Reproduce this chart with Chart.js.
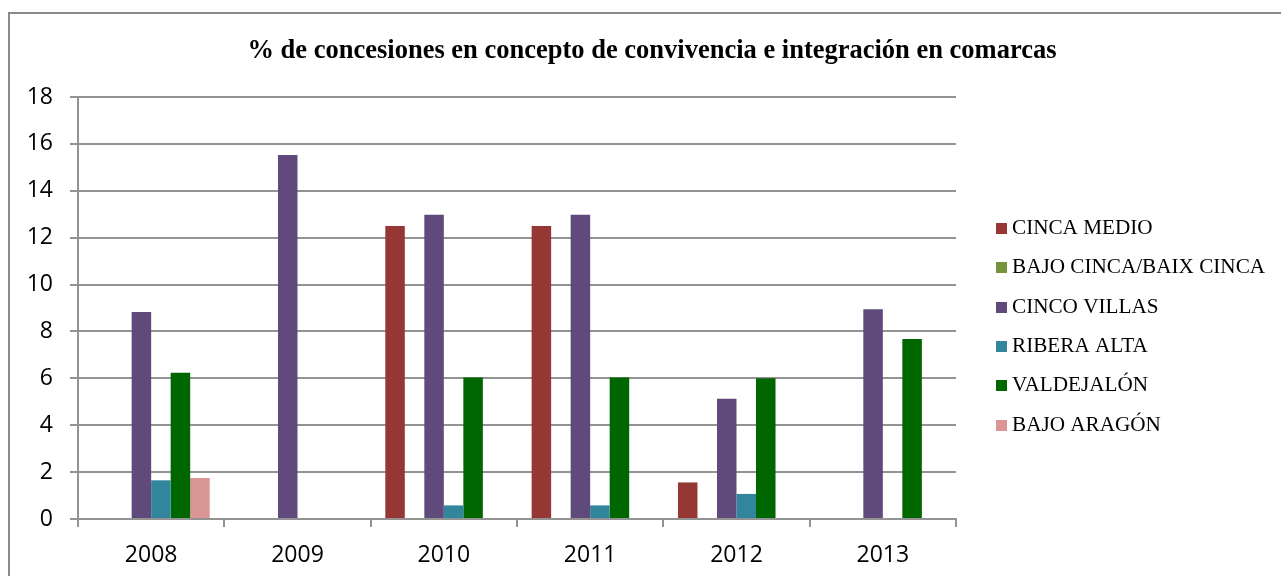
<!DOCTYPE html>
<html>
<head>
<meta charset="utf-8">
<script src="https://cdn.jsdelivr.net/npm/chart.js@4.4.1/dist/chart.umd.min.js"></script>
<style>
  html, body { margin: 0; padding: 0; background: #fff; }
  #wrap { width: 1281px; height: 576px; position: relative; }
</style>
</head>
<body>
<div id="wrap"><canvas id="chart"></canvas></div>
<script>
// categories and series
const years = ['2008', '2009', '2010', '2011', '2012', '2013'];
const cincaMedio = [0, 0, 12.5, 12.5, 1.56, 0];
const bajoCinca = [0, 0, 0, 0, 0, 0];
const cincoVillas = [8.83, 15.53, 12.98, 12.98, 5.13, 8.95];
const riberaAlta = [1.65, 0, 0.58, 0.58, 1.07, 0];
const valdejalon = [6.24, 0, 6.04, 6.04, 6.0, 7.68];
const bajoAragon = [1.75, 0, 0, 0, 0, 0];

const chartTitle = '% de concesiones en concepto de convivencia e integración en comarcas';
const gridColor = '#939393';

// frame, title and legend drawn by hand to match the Excel layout
const excelDecor = {
    id: 'excelDecor',
    beforeDraw(chart) {
        const c = chart.ctx;
        c.save();
        c.fillStyle = '#fff';
        c.fillRect(0, 0, chart.width, chart.height);
        c.strokeStyle = '#8a8a8a';
        c.lineWidth = 2;
        c.beginPath();
        c.moveTo(9, chart.height);
        c.lineTo(9, 13);
        c.lineTo(chart.width, 13);
        c.stroke();
        c.restore();
    },
    afterDraw(chart) {
        const c = chart.ctx;
        c.save();
        c.fillStyle = '#000';
        c.font = 'bold 26.5px "Liberation Serif", "Times New Roman", serif';
        c.textAlign = 'center';
        c.textBaseline = 'alphabetic';
        c.fillText(chartTitle, 652, 58);

        c.font = '21.2px "Liberation Serif", "Times New Roman", serif';
        c.textAlign = 'left';
        c.textBaseline = 'middle';
        chart.data.datasets.forEach((ds, i) => {
            const y = 228.5 + i * 39.3;
            c.fillStyle = ds.backgroundColor;
            c.fillRect(996, Math.round(y - 5.5), 11, 11);
            c.fillStyle = '#000';
            c.fillText(ds.label, 1012, y);
        });
        c.restore();
    }
};

const ctx = document.getElementById('chart').getContext('2d');
const chart = new Chart(ctx, {
    type: 'bar',
    data: {
        labels: years,
        datasets: [
            { label: 'CINCA MEDIO', data: cincaMedio, backgroundColor: '#953735' },
            { label: 'BAJO CINCA/BAIX CINCA', data: bajoCinca, backgroundColor: '#77933C' },
            { label: 'CINCO VILLAS', data: cincoVillas, backgroundColor: '#604A7B' },
            { label: 'RIBERA ALTA', data: riberaAlta, backgroundColor: '#31859C' },
            { label: 'VALDEJALÓN', data: valdejalon, backgroundColor: '#006600' },
            { label: 'BAJO ARAGÓN', data: bajoAragon, backgroundColor: '#D99694' }
        ]
    },
    options: {
        responsive: true,
        maintainAspectRatio: false,
        animation: false,
        layout: { padding: { left: 0, right: 325, top: 97, bottom: 0 } },
        datasets: {
            bar: { categoryPercentage: 0.8, barPercentage: 1.0, borderWidth: 0 }
        },
        plugins: {
            legend: { display: false },
            title: { display: false },
            tooltip: { enabled: false }
        },
        scales: {
            x: {
                grid: {
                    display: true,
                    offset: true,
                    drawOnChartArea: false,
                    drawTicks: true,
                    tickLength: 8,
                    color: gridColor,
                    lineWidth: 2
                },
                border: { display: true, color: gridColor, width: 2 },
                ticks: {
                    color: '#000',
                    padding: 15,
                    font: { family: '"Open Sans", sans-serif', size: 23 }
                },
                afterFit: (scale) => { scale.height = 57; }
            },
            y: {
                min: 0,
                max: 18,
                ticks: {
                    stepSize: 2,
                    color: '#000',
                    padding: 17,
                    font: { family: '"Open Sans", sans-serif', size: 23 }
                },
                grid: {
                    color: gridColor,
                    lineWidth: 2,
                    drawTicks: true,
                    tickLength: 8
                },
                border: { display: true, color: gridColor, width: 2 },
                afterFit: (scale) => { scale.width = 78; }
            }
        }
    },
    plugins: [excelDecor]
});
</script>
</body>
</html>
